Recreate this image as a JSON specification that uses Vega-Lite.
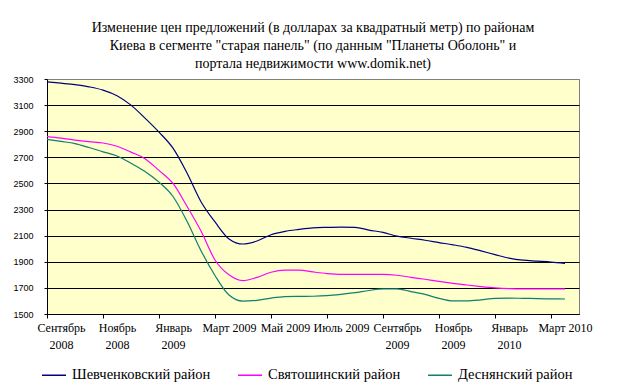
{
  "$schema": "https://vega.github.io/schema/vega-lite/v6.json",
  "width": 532,
  "height": 235,
  "autosize": {"type": "none"},
  "padding": {"left": 47, "top": 79, "right": 44, "bottom": 74},
  "background": "white",
  "title": {
    "text": ["Изменение цен предложений (в долларах за квадратный метр) по районам", "Киева в сегменте \"старая панель\" (по данным \"Планеты Оболонь\" и", "портала недвижимости  www.domik.net)"],
    "font": "Liberation Serif",
    "fontSize": 14,
    "fontWeight": "normal",
    "color": "black",
    "lineHeight": 18,
    "anchor": "middle",
    "frame": "group",
    "offset": 4
  },
  "config": {
    "view": {"fill": "#FFFFCC", "stroke": "#808080", "strokeWidth": 1}
  },
  "data": {
    "values": [
      {"t": -0.5, "s": "Шевченковский район", "v": 3278}, {"t": 0, "s": "Шевченковский район", "v": 3268}, {"t": 0.5, "s": "Шевченковский район", "v": 3257}, {"t": 1, "s": "Шевченковский район", "v": 3240}, {"t": 1.5, "s": "Шевченковский район", "v": 3215}, {"t": 2, "s": "Шевченковский район", "v": 3172}, {"t": 2.5, "s": "Шевченковский район", "v": 3100}, {"t": 3, "s": "Шевченковский район", "v": 3000}, {"t": 3.5, "s": "Шевченковский район", "v": 2893}, {"t": 4, "s": "Шевченковский район", "v": 2770}, {"t": 4.5, "s": "Шевченковский район", "v": 2580}, {"t": 5, "s": "Шевченковский район", "v": 2360}, {"t": 5.5, "s": "Шевченковский район", "v": 2205}, {"t": 6, "s": "Шевченковский район", "v": 2075}, {"t": 6.5, "s": "Шевченковский район", "v": 2036}, {"t": 7, "s": "Шевченковский район", "v": 2059}, {"t": 7.5, "s": "Шевченковский район", "v": 2107}, {"t": 8, "s": "Шевченковский район", "v": 2133}, {"t": 8.5, "s": "Шевченковский район", "v": 2148}, {"t": 9, "s": "Шевченковский район", "v": 2160}, {"t": 9.5, "s": "Шевченковский район", "v": 2164}, {"t": 10, "s": "Шевченковский район", "v": 2166}, {"t": 10.5, "s": "Шевченковский район", "v": 2164}, {"t": 11, "s": "Шевченковский район", "v": 2143}, {"t": 11.5, "s": "Шевченковский район", "v": 2125}, {"t": 12, "s": "Шевченковский район", "v": 2097}, {"t": 12.5, "s": "Шевченковский район", "v": 2080}, {"t": 13, "s": "Шевченковский район", "v": 2065}, {"t": 13.5, "s": "Шевченковский район", "v": 2047}, {"t": 14, "s": "Шевченковский район", "v": 2030}, {"t": 14.5, "s": "Шевченковский район", "v": 2010}, {"t": 15, "s": "Шевченковский район", "v": 1983}, {"t": 15.5, "s": "Шевченковский район", "v": 1955}, {"t": 16, "s": "Шевченковский район", "v": 1928}, {"t": 16.5, "s": "Шевченковский район", "v": 1912}, {"t": 17, "s": "Шевченковский район", "v": 1905}, {"t": 17.5, "s": "Шевченковский район", "v": 1898}, {"t": 18, "s": "Шевченковский район", "v": 1888},
      {"t": -0.5, "s": "Святошинский район", "v": 2858}, {"t": 0, "s": "Святошинский район", "v": 2847}, {"t": 0.5, "s": "Святошинский район", "v": 2832}, {"t": 1, "s": "Святошинский район", "v": 2820}, {"t": 1.5, "s": "Святошинский район", "v": 2810}, {"t": 2, "s": "Святошинский район", "v": 2785}, {"t": 2.5, "s": "Святошинский район", "v": 2740}, {"t": 3, "s": "Святошинский район", "v": 2690}, {"t": 3.5, "s": "Святошинский район", "v": 2600}, {"t": 4, "s": "Святошинский район", "v": 2500}, {"t": 4.5, "s": "Святошинский район", "v": 2325}, {"t": 5, "s": "Святошинский район", "v": 2135}, {"t": 5.5, "s": "Святошинский район", "v": 1914}, {"t": 6, "s": "Святошинский район", "v": 1800}, {"t": 6.5, "s": "Святошинский район", "v": 1755}, {"t": 7, "s": "Святошинский район", "v": 1780}, {"t": 7.5, "s": "Святошинский район", "v": 1820}, {"t": 8, "s": "Святошинский район", "v": 1836}, {"t": 8.5, "s": "Святошинский район", "v": 1836}, {"t": 9, "s": "Святошинский район", "v": 1822}, {"t": 9.5, "s": "Святошинский район", "v": 1810}, {"t": 10, "s": "Святошинский район", "v": 1804}, {"t": 10.5, "s": "Святошинский район", "v": 1804}, {"t": 11, "s": "Святошинский район", "v": 1804}, {"t": 11.5, "s": "Святошинский район", "v": 1804}, {"t": 12, "s": "Святошинский район", "v": 1797}, {"t": 12.5, "s": "Святошинский район", "v": 1781}, {"t": 13, "s": "Святошинский район", "v": 1766}, {"t": 13.5, "s": "Святошинский район", "v": 1750}, {"t": 14, "s": "Святошинский район", "v": 1735}, {"t": 14.5, "s": "Святошинский район", "v": 1722}, {"t": 15, "s": "Святошинский район", "v": 1710}, {"t": 15.5, "s": "Святошинский район", "v": 1700}, {"t": 16, "s": "Святошинский район", "v": 1694}, {"t": 16.5, "s": "Святошинский район", "v": 1692}, {"t": 17, "s": "Святошинский район", "v": 1692}, {"t": 17.5, "s": "Святошинский район", "v": 1692}, {"t": 18, "s": "Святошинский район", "v": 1692},
      {"t": -0.5, "s": "Деснянский район", "v": 2838}, {"t": 0, "s": "Деснянский район", "v": 2822}, {"t": 0.5, "s": "Деснянский район", "v": 2805}, {"t": 1, "s": "Деснянский район", "v": 2775}, {"t": 1.5, "s": "Деснянский район", "v": 2742}, {"t": 2, "s": "Деснянский район", "v": 2710}, {"t": 2.5, "s": "Деснянский район", "v": 2655}, {"t": 3, "s": "Деснянский район", "v": 2592}, {"t": 3.5, "s": "Деснянский район", "v": 2510}, {"t": 4, "s": "Деснянский район", "v": 2400}, {"t": 4.5, "s": "Деснянский район", "v": 2210}, {"t": 5, "s": "Деснянский район", "v": 1985}, {"t": 5.5, "s": "Деснянский район", "v": 1795}, {"t": 6, "s": "Деснянский район", "v": 1645}, {"t": 6.5, "s": "Деснянский район", "v": 1598}, {"t": 7, "s": "Деснянский район", "v": 1605}, {"t": 7.5, "s": "Деснянский район", "v": 1622}, {"t": 8, "s": "Деснянский район", "v": 1633}, {"t": 8.5, "s": "Деснянский район", "v": 1635}, {"t": 9, "s": "Деснянский район", "v": 1636}, {"t": 9.5, "s": "Деснянский район", "v": 1640}, {"t": 10, "s": "Деснянский район", "v": 1650}, {"t": 10.5, "s": "Деснянский район", "v": 1663}, {"t": 11, "s": "Деснянский район", "v": 1680}, {"t": 11.5, "s": "Деснянский район", "v": 1692}, {"t": 12, "s": "Деснянский район", "v": 1692}, {"t": 12.5, "s": "Деснянский район", "v": 1672}, {"t": 13, "s": "Деснянский район", "v": 1650}, {"t": 13.5, "s": "Деснянский район", "v": 1620}, {"t": 14, "s": "Деснянский район", "v": 1600}, {"t": 14.5, "s": "Деснянский район", "v": 1600}, {"t": 15, "s": "Деснянский район", "v": 1608}, {"t": 15.5, "s": "Деснянский район", "v": 1620}, {"t": 16, "s": "Деснянский район", "v": 1622}, {"t": 16.5, "s": "Деснянский район", "v": 1620}, {"t": 17, "s": "Деснянский район", "v": 1618}, {"t": 17.5, "s": "Деснянский район", "v": 1616}, {"t": 18, "s": "Деснянский район", "v": 1615}
    ]
  },
  "mark": {"type": "line", "interpolate": "monotone", "strokeWidth": 1.2},
  "encoding": {
    "x": {
      "field": "t",
      "type": "quantitative",
      "scale": {"domain": [-0.5, 18.5], "nice": false, "zero": false},
      "axis": {
        "title": null,
        "values": [0, 2, 4, 6, 8, 10, 12, 14, 16, 18],
        "grid": false,
        "domainColor": "black",
        "domainWidth": 1,
        "tickColor": "black",
        "tickSize": 4,
        "tickOffset": -14,
        "labelOffset": 14,
        "labelPadding": 4,
        "labelFont": "Liberation Serif",
        "labelFontSize": 12,
        "labelColor": "black",
        "labelLineHeight": 17,
        "labelBaseline": "top",
        "labelAlign": "center",
        "labelOverlap": false,
        "labelBound": false,
        "labelFlush": false,
        "labelExpr": "datum.value==0?['Сентябрь','2008']:datum.value==2?['Ноябрь','2008']:datum.value==4?['Январь','2009']:datum.value==6?'Март 2009':datum.value==8?'Май 2009':datum.value==10?'Июль 2009':datum.value==12?['Сентябрь','2009']:datum.value==14?['Ноябрь','2009']:datum.value==16?['Январь','2010']:'Март 2010'"
      }
    },
    "y": {
      "field": "v",
      "type": "quantitative",
      "scale": {"domain": [1500, 3300], "nice": false, "zero": false},
      "axis": {
        "title": null,
        "values": [1500, 1700, 1900, 2100, 2300, 2500, 2700, 2900, 3100, 3300],
        "grid": true,
        "gridColor": {"condition": {"test": "datum.value == 3300", "value": "#808080"}, "value": "black"},
        "gridOpacity": 1,
        "gridWidth": 1,
        "domainColor": "black",
        "tickColor": "black",
        "tickSize": 3,
        "labelPadding": 11,
        "labelFont": "Liberation Sans",
        "labelFontSize": 9,
        "labelColor": "black",
        "format": "d"
      }
    },
    "color": {
      "field": "s",
      "type": "nominal",
      "sort": ["Шевченковский район", "Святошинский район", "Деснянский район"],
      "scale": {"domain": ["Шевченковский район", "Святошинский район", "Деснянский район"], "range": ["#000080", "#FF00FF", "#0F7F6F"]},
      "legend": {
        "orient": "none",
        "legendX": -6,
        "legendY": 283,
        "direction": "horizontal",
        "title": null,
        "symbolType": "stroke",
        "symbolSize": 576,
        "symbolStrokeWidth": 1.5,
        "labelFont": "Liberation Serif",
        "labelFontSize": 14.5,
        "labelColor": "black",
        "labelOffset": 5,
        "columnPadding": 24
      }
    }
  }
}
